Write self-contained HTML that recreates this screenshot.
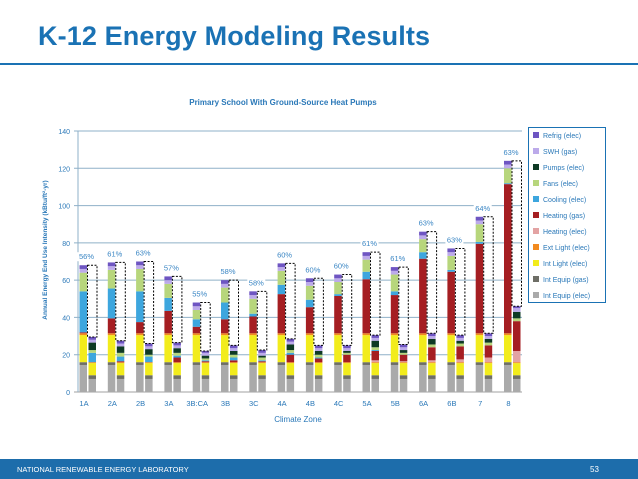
<!DOCTYPE html>
<html><head><meta charset="utf-8">
<style>
body{margin:0;background:#fff;}
#wrap{position:relative;width:638px;height:479px;overflow:hidden;font-family:"Liberation Sans",sans-serif;}
</style></head>
<body>
<div id="wrap">
<svg id="svg" width="638" height="479" xmlns="http://www.w3.org/2000/svg">
  <text x="38" y="45" font-size="27" font-weight="bold" fill="#1a72b4" textLength="392">K-12 Energy Modeling Results</text>
  <rect x="0" y="63" width="638" height="2" fill="#1a72b4"/>
  <text x="283" y="105" font-size="8" font-weight="bold" fill="#2a78b8" text-anchor="middle">Primary School With Ground-Source Heat Pumps</text>
  <text x="298" y="422" font-size="8" fill="#2a78b8" text-anchor="middle">Climate Zone</text>
  <text transform="translate(47,250) rotate(-90)" font-size="6.5" font-weight="bold" fill="#2a78b8" text-anchor="middle">Annual Energy End Use Intensity (kBtu/ft²-yr)</text>
  <g id="grid"></g>
  <g id="bars"></g>
  <g id="legend"></g>
  <rect x="0" y="459" width="638" height="20" fill="#1d6dab"/>
  <text x="17" y="472" font-size="7.5" fill="#fff">NATIONAL RENEWABLE ENERGY LABORATORY</text>
  <text x="590" y="472" font-size="8" fill="#fff">53</text>
</svg>
</div>
<script>
const categories=["1A","2A","2B","3A","3B:CA","3B","3C","4A","4B","4C","5A","5B","6A","6B","7","8"];
const seriesNames=["Int Equip (elec)","Int Equip (gas)","Int Light (elec)","Ext Light (elec)","Heating (elec)","Heating (gas)","Cooling (elec)","Fans (elec)","Pumps (elec)","SWH (gas)","Refrig (elec)"];
const seriesColors=["#aaaaaa","#6e6e66","#f2ec1c","#f28a1e","#e3a3a3","#a51e22","#3da6de","#b7d67c","#0e3a24","#bcaaea","#6e55c2"];
// baseline building
const baseIntEquipElec=[14.5,14.5,14.5,14.5,14.5,14.5,14.5,14.5,14.5,14.5,14.5,14.5,14.5,14.5,14.5,14.5];
const baseIntEquipGas=[1.5,1.5,1.5,1.5,1.5,1.5,1.5,1.5,1.5,1.5,1.5,1.5,1.5,1.5,1.5,1.5];
const baseIntLight=[14.5,14.5,14.5,14.5,14.5,14.5,14.5,14.5,14.5,14.5,14.5,14.5,14.5,14.5,14.5,14.5];
const baseExtLight=[1,1,1,1,1,1,1,1,1,1,1,1,1,1,1,1];
const baseHeatElec=[0,0,0,0,0,0,0,0,0,0,0,0,0,0,0,0];
const baseHeatGas=[0.5,8,6,12,3.5,7.5,9,21,14,20,29,20.5,40,33,48,80];
const baseCooling=[22,16,16.5,7,4,9,1.5,5,4,1,4,2,3.5,1,1,0.5];
const baseFans=[10,10,12,7.5,5,8,8,7.5,7.5,6.5,6.5,9,7,7.5,9.5,8];
const basePumps=[0,0,0,0,0,0,0,0,0,0,0,0,0,0,0,0];
const baseSWH=[2,2,2,2,2,2,2,2,2,2,2,2,2,2,2,2];
const baseRefrig=[2,2,2,2,2,2,2,2,2,2,2,2,2,2,2,2];
// ground-source heat pump building
const gshpIntEquipElec=[7,7,7,7,7,7,7,7,7,7,7,7,7,7,7,7];
const gshpIntEquipGas=[2,2,2,2,2,2,2,2,2,2,2,2,2,2,2,2];
const gshpIntLight=[6.5,6.5,6.5,6.5,6.5,6.5,6.5,6.5,6.5,6.5,6.5,6.5,6.5,6.5,6.5,6.5];
const gshpExtLight=[0.5,0.5,0.5,0.5,0.5,0.5,0.5,0.5,0.5,0.5,0.5,0.5,0.5,0.5,0.5,0.5];
const gshpHeatElec=[0,0,0,0,0,0,0,0,0,0,1,0.5,1,1.5,2.5,6];
const gshpHeatGas=[0,0.5,0,2.5,0.5,1,0.5,4,2,4,5,3.5,7,7,6.5,16];
const gshpCooling=[5,2.5,3,1,0.5,1.5,0.5,1,0.5,0,0.5,0,0,0,0,0];
const gshpFans=[1.5,2,1,1.5,1,1.5,1.5,1.5,1.5,1,1.5,1,1.5,1.5,1.5,1.5];
const gshpPumps=[4,3.5,3,2.5,1.5,2,1,3,2,1,3.5,1.5,3,1.5,2,3.5];
const gshpSWH=[1.5,1.5,1.5,1.5,1.5,1.5,1.5,1.5,1.5,1.5,1.5,1.5,1.5,1.5,1.5,2];
const gshpRefrig=[1.5,1.5,1.5,1.5,1,1.5,1.5,1.5,1.5,1.5,1.5,1.5,1.5,1.5,1.5,1];
const savingsLabels=["56%","61%","63%","57%","55%","58%","58%","60%","60%","60%","61%","61%","63%","63%","64%","63%"];
const yTicks=[0,20,40,60,80,100,120,140];

const baseSeries=[baseIntEquipElec,baseIntEquipGas,baseIntLight,baseExtLight,baseHeatElec,baseHeatGas,baseCooling,baseFans,basePumps,baseSWH,baseRefrig];
const gshpSeries=[gshpIntEquipElec,gshpIntEquipGas,gshpIntLight,gshpExtLight,gshpHeatElec,gshpHeatGas,gshpCooling,gshpFans,gshpPumps,gshpSWH,gshpRefrig];

const NS="http://www.w3.org/2000/svg";
const plotL=78,plotR=522,y0=392,yTop=131,yMax=140;
const step=28.3,firstX=79.5,barW=7.5;
function yScale(v){return y0-(v/yMax)*(y0-yTop);}
function xCat(i){return firstX+i*step;}
function mk(tag,attrs,parent){const e=document.createElementNS(NS,tag);for(const k in attrs)e.setAttribute(k,attrs[k]);parent.appendChild(e);return e;}

const grid=document.getElementById('grid');
yTicks.forEach(t=>{
  const y=yScale(t);
  const l=mk('line',{x1:plotL-4,x2:plotR,y1:y,y2:y,stroke:t===0?'#a0a0a0':'#8fb0c8','stroke-width':1},grid);
  
  
  const tx=mk('text',{x:plotL-8,y:y+3,'font-size':7,fill:'#2a78b8','text-anchor':'end'},grid);
  tx.textContent=t;
  
  
});
mk('line',{x1:plotL,x2:plotL,y1:yTop,y2:y0,stroke:'#8fb0c8','stroke-width':1},grid);

const bars=document.getElementById('bars');
categories.forEach((c,i)=>{
  const x1=xCat(i),x2=x1+barW+1.5;
  let acc=0;
  baseSeries.forEach((s,k)=>{
    const v=s[i];if(v<=0)return;
    const r=mk('rect',{x:x1,y:yScale(acc+v),width:barW,height:yScale(acc)-yScale(acc+v),fill:seriesColors[k]},bars);
    
    
    acc+=v;
  });
  const baseTot=acc;
  acc=0;
  gshpSeries.forEach((s,k)=>{
    const v=s[i];if(v<=0)return;
    const r=mk('rect',{x:x2,y:yScale(acc+v),width:barW,height:yScale(acc)-yScale(acc+v),fill:seriesColors[k]},bars);
    
    
    acc+=v;
  });
  const gTot=acc;
  const box=mk('rect',{x:x2-1,y:yScale(baseTot),width:barW+2,height:yScale(gTot)-yScale(baseTot),fill:'none',stroke:'#000','stroke-width':1,'stroke-dasharray':'2,1.5'},bars);
  
  
  const ly=yScale(baseTot)-6;
  mk('rect',{x:x1-2,y:ly-7,width:18,height:9,fill:'#fff'},bars);
  const lt=mk('text',{x:x1+7,y:ly,'font-size':7.5,fill:'#3a86c4','text-anchor':'middle'},bars);
  lt.textContent=savingsLabels[i];
  
  
  const xl=mk('text',{x:x1+4.5,y:y0+14,'font-size':7.5,fill:'#2a78b8','text-anchor':'middle'},bars);
  xl.textContent=c;
  
  
});

const lg=document.getElementById('legend');
const lb=mk('rect',{x:528.5,y:127.5,width:77,height:175,fill:'#fff',stroke:'#1a72b4','stroke-width':1},lg);


for(let k=seriesNames.length-1,j=0;k>=0;k--,j++){
  const y=135+j*16;
  const m=mk('rect',{x:533,y:y-3,width:6,height:6,fill:seriesColors[k]},lg);
  
  
  const t=mk('text',{x:543,y:y+3,'font-size':7,fill:'#2a78b8'},lg);
  t.textContent=seriesNames[k];
  
  
}
</script>
</body></html>
